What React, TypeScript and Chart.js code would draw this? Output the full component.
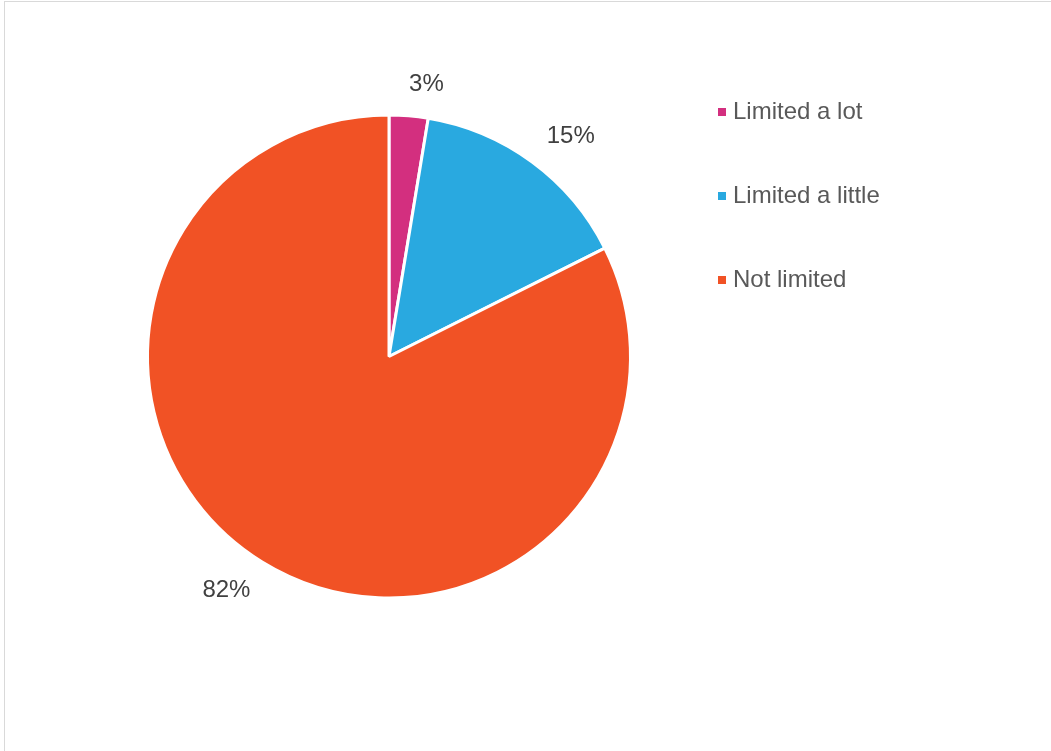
import React, { useEffect, useRef } from "react";
import { Chart, registerables } from "chart.js";

Chart.register(...registerables);

const categories = ["Limited a lot", "Limited a little", "Not limited"];
const values = [2.6, 15.0, 82.4];
const valueLabels = ["3%", "15%", "82%"];
const colors = ["#D32F7F", "#29A9E0", "#F15225"];

const FONT = "'Liberation Sans', Arial, Helvetica, sans-serif";

const outsideLabels = {
  id: "outsideLabels",
  afterDatasetsDraw(chart: any) {
    const ctx = chart.ctx;
    const meta = chart.getDatasetMeta(0);
    ctx.save();
    ctx.font = `24px ${FONT}`;
    ctx.fillStyle = "#404040";
    ctx.textAlign = "center";
    ctx.textBaseline = "middle";
    meta.data.forEach((arc: any, i: number) => {
      const { x, y, startAngle, endAngle, outerRadius } = arc.getProps(
        ["x", "y", "startAngle", "endAngle", "outerRadius"],
        true
      );
      const mid = (startAngle + endAngle) / 2 + 0.055;
      const ux = Math.cos(mid);
      const uy = Math.sin(mid);
      const text = valueLabels[i];
      const w = ctx.measureText(text).width;
      const h = 18;
      const ext = (w / 2) * Math.abs(ux) + (h / 2) * Math.abs(uy);
      const d = outerRadius + 22 + ext;
      ctx.fillText(text, x + ux * d, y + uy * d);
    });
    ctx.restore();
  },
};

const sideLegend = {
  id: "sideLegend",
  afterDraw(chart: any) {
    const ctx = chart.ctx;
    ctx.save();
    ctx.font = `24px ${FONT}`;
    ctx.textBaseline = "middle";
    ctx.textAlign = "left";
    const x0 = 718;
    const y0 = 112;
    const step = 84;
    chart.data.labels.forEach((lab: string, i: number) => {
      const yy = y0 + i * step;
      ctx.fillStyle = chart.data.datasets[0].backgroundColor[i];
      ctx.fillRect(x0, yy - 4, 8, 8);
      ctx.fillStyle = "#595959";
      ctx.fillText(lab, x0 + 15, yy);
    });
    ctx.restore();
  },
};

export default function App() {
  const ref = useRef<HTMLCanvasElement>(null);
  useEffect(() => {
    document.body.style.margin = "0";
    document.body.style.overflow = "hidden";
    const chart = new Chart(ref.current!, {
      type: "pie",
      data: {
        labels: categories,
        datasets: [
          {
            data: values,
            backgroundColor: colors,
            borderColor: "#ffffff",
            borderWidth: 3,
          },
        ],
      },
      options: {
        animation: false,
        responsive: false,
        layout: {
          padding: { left: 146, right: 419, top: 113, bottom: 151 },
        },
        plugins: {
          legend: { display: false },
          tooltip: { enabled: false },
        },
      },
      plugins: [outsideLabels, sideLegend],
    });
    return () => chart.destroy();
  }, []);
  return (
    <div style={{ position: "relative", width: 1051, height: 751, overflow: "hidden", background: "#fff" }}>
      <div
        style={{
          position: "absolute",
          left: 4,
          top: 1,
          width: 1100,
          height: 800,
          border: "1px solid #d9d9d9",
          boxSizing: "border-box",
        }}
      />
      <canvas ref={ref} width={1051} height={751} style={{ position: "absolute", left: 0, top: 0 }} />
    </div>
  );
}
